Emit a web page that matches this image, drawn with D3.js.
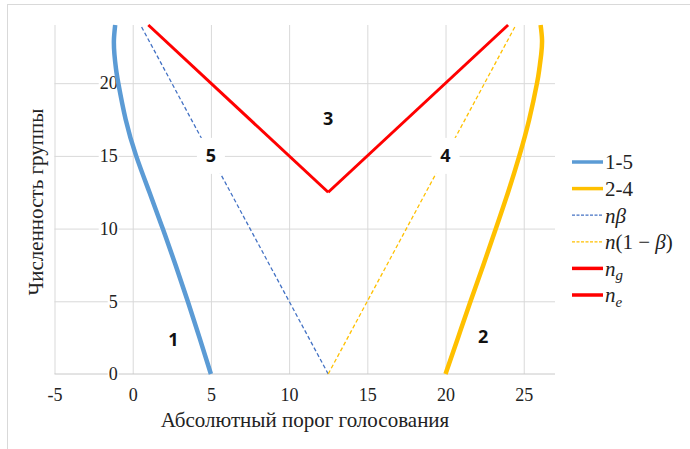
<!DOCTYPE html>
<html>
<head>
<meta charset="utf-8">
<script src="https://cdn.jsdelivr.net/npm/d3@7"></script>
<style>
  html, body { margin: 0; padding: 0; background: #fff; }
  svg { display: block; }
  .serif, .serif text { font-family: "Liberation Serif", "Times New Roman", serif; }
</style>
</head>
<body>
<svg id="chart" width="690" height="449"></svg>
<script>
// Group size (vertical axis) at which each curve point is sampled
const groupSize = [0, 2.5, 5, 7.5, 10, 12.5, 15, 17.5, 20, 21, 22, 23, 24];
// Absolute voting threshold for the 1-5 boundary
const curve15 = [5, 4.27, 3.52, 2.74, 1.92, 1.07, 0.22, -0.45, -0.92, -1.07, -1.17, -1.2, -1.12];
// Absolute voting threshold for the 2-4 boundary
const curve24 = [20, 20.8, 21.6, 22.42, 23.22, 24.0, 24.72, 25.35, 25.85, 26.0, 26.12, 26.17, 26.08];

// Straight reference lines: [threshold, group size] end points
const nBeta = [[12.5, 0], [0.5, 24]];
const nOneMinusBeta = [[12.5, 0], [24.5, 24]];
const nG = [[1, 24], [12.5, 12.5]];
const nE = [[12.5, 12.5], [24, 24]];

// Region numbers and where they sit
const regionLabels = ["1", "2", "3", "4", "5"];
const regionX = [2.6, 22.4, 12.5, 20, 5];
const regionY = [2.4, 2.6, 17.6, 15, 15];

const xTicks = [-5, 0, 5, 10, 15, 20, 25];
const yTicks = [0, 5, 10, 15, 20];

const xTitle = "Абсолютный порог голосования";
const yTitle = "Численность группы";

const svg = d3.select("#chart");
const W = 690, H = 449;

// Frame lines along the top and left edges
svg.append("line").attr("x1", 7).attr("x2", W).attr("y1", 4.5).attr("y2", 4.5)
  .attr("stroke", "#d9d9d9").attr("stroke-width", 1);
svg.append("line").attr("x1", 7.5).attr("x2", 7.5).attr("y1", 4).attr("y2", H)
  .attr("stroke", "#d9d9d9").attr("stroke-width", 1);

const x = d3.scaleLinear().domain([-5, 27]).range([54.5, 555]);
const y = d3.scaleLinear().domain([0, 24]).range([374, 25]);

// Gridlines
const gridX = svg.append("g")
  .attr("transform", `translate(0,${y(0)})`)
  .call(d3.axisBottom(x).tickValues(xTicks).tickSize(-(y(0) - y(24))).tickFormat(""));
gridX.select(".domain").remove();
gridX.selectAll("line").attr("stroke", "#d9d9d9").attr("stroke-width", 1);

const gridY = svg.append("g")
  .attr("transform", `translate(${x(-5)},0)`)
  .call(d3.axisLeft(y).tickValues(yTicks.filter(v => v > 0)).tickSize(-(x(27) - x(-5))).tickFormat(""));
gridY.select(".domain").remove();
gridY.selectAll("line").attr("stroke", "#d9d9d9").attr("stroke-width", 1);

// Horizontal axis line at zero
svg.append("line")
  .attr("x1", x(-5)).attr("x2", x(27)).attr("y1", y(0)).attr("y2", y(0))
  .attr("stroke", "#c8c8c8").attr("stroke-width", 1);

// X tick labels
const xAxis = svg.append("g")
  .attr("class", "serif")
  .attr("transform", `translate(0,${y(0)})`)
  .call(d3.axisBottom(x).tickValues(xTicks).tickSize(0).tickPadding(14).tickFormat(d3.format("d")));
xAxis.attr("font-family", null);
xAxis.select(".domain").remove();
xAxis.selectAll("text")
  .attr("font-size", 18).attr("fill", "#222")
  .text(d => d < 0 ? "-" + Math.abs(d) : d);

// Y tick labels sit at the vertical axis through zero, on white patches
const yAxis = svg.append("g")
  .attr("class", "serif")
  .attr("transform", `translate(${x(0) - 15},0)`)
  .call(d3.axisLeft(y).tickValues(yTicks).tickSize(0).tickPadding(0).tickFormat(d3.format("d")));
yAxis.attr("font-family", null);
yAxis.select(".domain").remove();
yAxis.selectAll(".tick").each(function(d) {
  const t = d3.select(this);
  const txt = t.select("text").attr("font-size", 18).attr("fill", "#222");
  const bb = txt.node().getBBox();
  t.insert("rect", "text")
    .attr("x", bb.x - 1).attr("y", bb.y + 2).attr("width", bb.width + 2).attr("height", bb.height - 4)
    .attr("fill", "#fff");
});

// Curves
const curveLine = d3.line()
  .x(d => x(d[0])).y(d => y(d[1]))
  .curve(d3.curveNatural);
const straight = d3.line().x(d => x(d[0])).y(d => y(d[1]));

const pts15 = groupSize.map((n, i) => [curve15[i], n]);
const pts24 = groupSize.map((n, i) => [curve24[i], n]);

svg.append("path").attr("d", straight(nBeta))
  .attr("fill", "none").attr("stroke", "#4472C4").attr("stroke-width", 1.3).attr("stroke-dasharray", "4,2.5");
svg.append("path").attr("d", straight(nOneMinusBeta))
  .attr("fill", "none").attr("stroke", "#FFC000").attr("stroke-width", 1.3).attr("stroke-dasharray", "4,2.5");
svg.append("path").attr("d", straight(nG))
  .attr("fill", "none").attr("stroke", "#FF0000").attr("stroke-width", 3);
svg.append("path").attr("d", straight(nE))
  .attr("fill", "none").attr("stroke", "#FF0000").attr("stroke-width", 3);
svg.append("path").attr("d", curveLine(pts15))
  .attr("fill", "none").attr("stroke", "#5B9BD5").attr("stroke-width", 4.5);
svg.append("path").attr("d", curveLine(pts24))
  .attr("fill", "none").attr("stroke", "#FFC000").attr("stroke-width", 4.5);

// Region numbers on white patches
regionLabels.forEach((lab, i) => {
  const cx = x(regionX[i]), cy = y(regionY[i]);
  svg.append("rect")
    .attr("x", cx - 14).attr("y", cy - 18).attr("width", 28).attr("height", 36)
    .attr("fill", "#fff");
  svg.append("text")
    .attr("x", cx).attr("y", cy).attr("dy", "0.36em")
    .attr("text-anchor", "middle")
    .style("font-family", "'Open Sans', sans-serif").attr("font-weight", 700).attr("font-size", 18)
    .attr("fill", "#111")
    .text(lab);
});

// Axis titles
svg.append("text")
  .attr("class", "serif")
  .attr("x", 305).attr("y", 427)
  .attr("text-anchor", "middle")
  .attr("font-size", 21).attr("fill", "#222")
  .text(xTitle);
svg.append("text")
  .attr("class", "serif")
  .attr("transform", `translate(43,202) rotate(-90)`)
  .attr("text-anchor", "middle")
  .attr("font-size", 21).attr("fill", "#222")
  .text(yTitle);

// Legend
const legendColors = ["#5B9BD5", "#FFC000", "#4472C4", "#FFC000", "#FF0000", "#FF0000"];
const legendDashed = [false, false, true, true, false, false];
const legendY0 = 162, legendStep = 26.6;
const legend = svg.append("g");
legendColors.forEach((c, i) => {
  const ly = legendY0 + i * legendStep;
  legend.append("line")
    .attr("x1", 572).attr("x2", 603).attr("y1", ly).attr("y2", ly)
    .attr("stroke", c)
    .attr("stroke-width", legendDashed[i] ? 1.3 : 3.5)
    .attr("stroke-dasharray", legendDashed[i] ? "3,1.5" : null);
});
function legendText(i) {
  return legend.append("text")
    .attr("class", "serif")
    .attr("x", 605).attr("y", legendY0 + i * legendStep).attr("dy", "0.35em")
    .attr("font-size", 21).attr("fill", "#222");
}
legendText(0).text("1-5");
legendText(1).text("2-4");
const t2 = legendText(2);
t2.append("tspan").attr("font-style", "italic").text("nβ");
const t3 = legendText(3);
t3.append("tspan").attr("font-style", "italic").text("n");
t3.append("tspan").text("(1 − ");
t3.append("tspan").attr("font-style", "italic").text("β");
t3.append("tspan").text(")");
const t4 = legendText(4);
t4.append("tspan").attr("font-style", "italic").text("n");
t4.append("tspan").attr("font-style", "italic").attr("font-size", 15).attr("dy", "0.3em").text("g");
const t5 = legendText(5);
t5.append("tspan").attr("font-style", "italic").text("n");
t5.append("tspan").attr("font-style", "italic").attr("font-size", 15).attr("dy", "0.3em").text("e");
</script>
</body>
</html>
